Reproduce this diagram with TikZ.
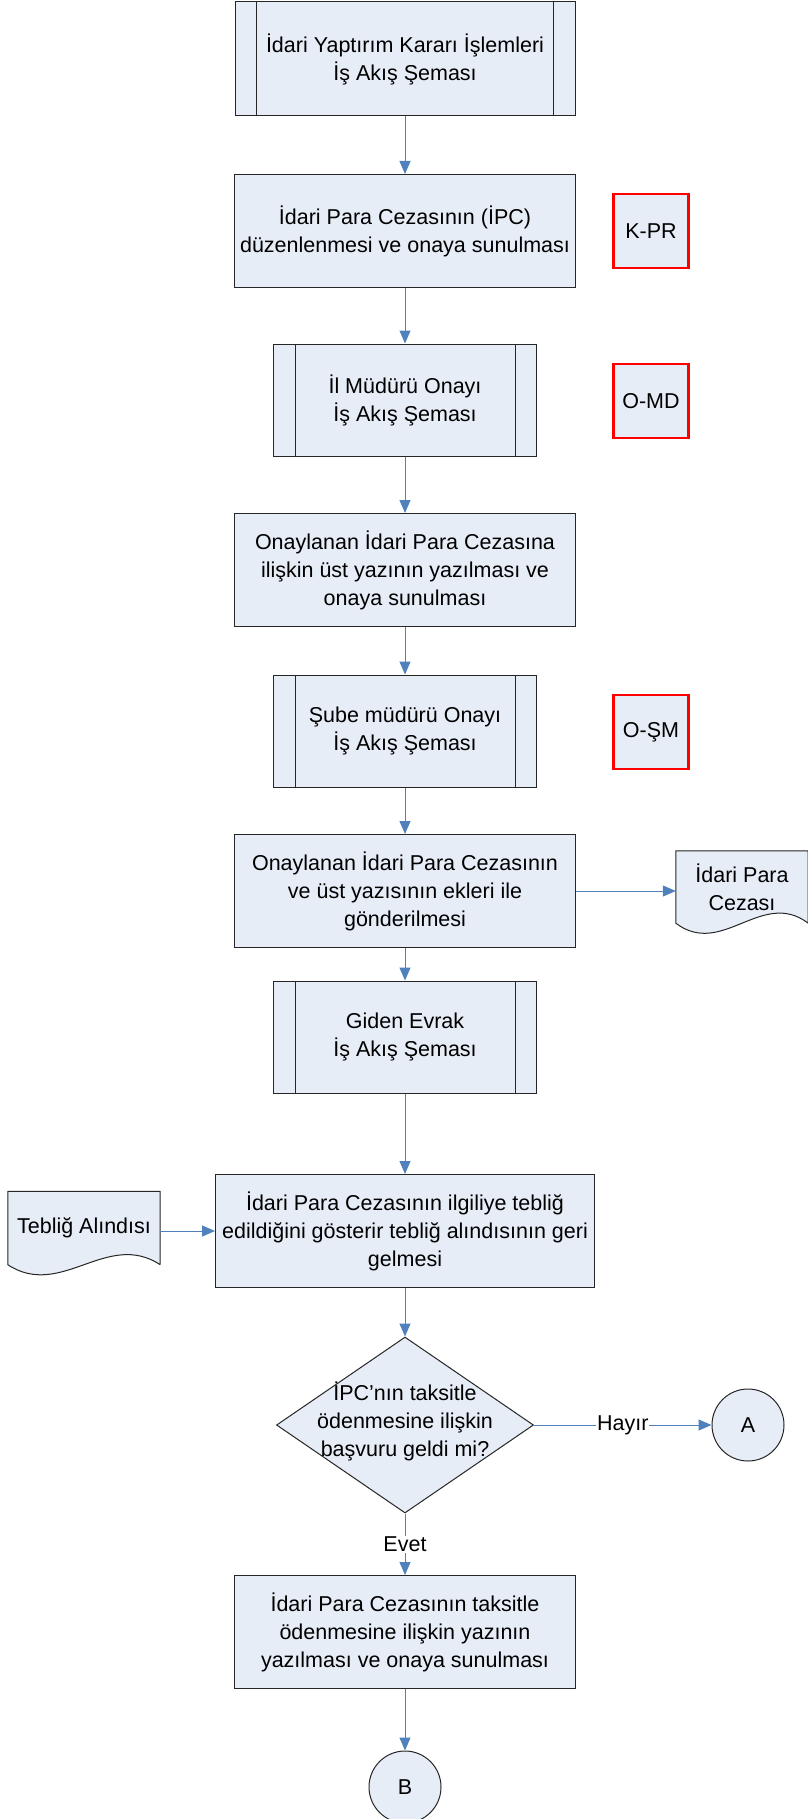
\documentclass[tikz,border=0pt]{standalone}
\usepackage{fontspec}
\setmainfont{Liberation Sans}
\usepackage{tikz}
\usetikzlibrary{arrows.meta, shapes.geometric, calc, backgrounds}

\definecolor{boxfill}{RGB}{231,237,247}
\definecolor{flowblue}{RGB}{79,129,189}

% document symbol with a wavy lower edge, drawn round a named node
\newcommand{\wavydoc}[1]{%
	\filldraw[boxline, fill=boxfill] (#1.south east) -- (#1.north east) -- (#1.north west) -- (#1.south west)
		.. controls ($(#1.south west)!0.35!(#1.south east)+(0,35)$) and ($(#1.south west)!0.65!(#1.south east)+(0,-35)$) .. (#1.south east);}

\begin{document}
\begin{tikzpicture}[x=1pt, y=-1pt, font=\fontsize{21.5}{28}\selectfont,
	boxline/.style={draw=black!85, line width=1pt},
	proc/.style={rectangle, boxline, fill=boxfill, align=center, minimum width=341pt, minimum height=113pt, inner sep=2pt},
	subproc/.style={proc, minimum width=263pt, minimum height=112pt},
	code/.style={rectangle, draw=red, line width=2.6pt, fill=boxfill, minimum width=75pt, minimum height=74pt, inner sep=0pt},
	docnode/.style={rectangle, align=center, inner sep=0pt},
	decision/.style={diamond, boxline, fill=boxfill, minimum width=257pt, minimum height=176pt, inner sep=0pt},
	connector/.style={circle, boxline, fill=boxfill, minimum size=72pt, inner sep=0pt},
	flow/.style={draw=flowblue, line width=1pt, -{Triangle[width=11pt,length=13pt]}},
	flowlabel/.style={fill=white, inner sep=1pt}]
	\useasboundingbox (0,0) rectangle (807,1819);

	\node[subproc, minimum width=340pt, minimum height=114pt]	(b1) at (405,59)	{İdari Yaptırım Kararı İşlemleri\\İş Akış Şeması};
	\node[proc]		(b2) at (405,231)	{İdari Para Cezasının (İPC)\\düzenlenmesi ve onaya sunulması};
	\node[subproc]	(b3) at (405,400)	{İl Müdürü Onayı\\İş Akış Şeması};
	\node[proc]		(b4) at (405,570)	{Onaylanan İdari Para Cezasına\\ilişkin üst yazının yazılması ve\\onaya sunulması};
	\node[subproc]	(b5) at (405,731)	{Şube müdürü Onayı\\İş Akış Şeması};
	\node[proc]		(b6) at (405,891)	{Onaylanan İdari Para Cezasının\\ve üst yazısının ekleri ile\\gönderilmesi};
	\node[subproc]	(b7) at (405,1037)	{Giden Evrak\\İş Akış Şeması};
	\node[proc, minimum width=379pt]	(b8) at (405,1231)	{İdari Para Cezasının ilgiliye tebliğ\\edildiğini gösterir tebliğ alındısının geri\\gelmesi};
	\node[decision]	(dec) at (405,1425)	{\smash{\makebox[0pt]{\raisebox{-3pt}{\begin{tabular}{@{}c@{}}İPC’nın taksitle\\ödenmesine ilişkin\\başvuru geldi mi?\end{tabular}}}}};
	\node[proc]		(b9) at (405,1632)	{İdari Para Cezasının taksitle\\ödenmesine ilişkin yazının\\yazılması ve onaya sunulması};
	\node[connector]	(ca) at (748,1425)	{A};
	\node[connector]	(cb) at (405,1787)	{B};

	\node[code]	(kpr) at (651,231)	{K-PR};
	\node[code]	(omd) at (651,401)	{O-MD};
	\node[code]	(osm) at (651,732)	{O-ŞM};

	\node[docnode, minimum width=132pt, minimum height=72pt]	(ipcdoc) at (742,887)	{İdari Para\\Cezası};
	\node[docnode, minimum width=152pt, minimum height=73pt]	(tebdoc) at (84,1228)	{Tebliğ Alındısı};
	\begin{scope}[on background layer]
		\wavydoc{ipcdoc}
		\wavydoc{tebdoc}
	\end{scope}

	\foreach \n in {b1,b3,b5,b7}
		\draw[boxline] ([xshift=22pt]\n.north west) -- ([xshift=22pt]\n.south west)
			([xshift=-22pt]\n.north east) -- ([xshift=-22pt]\n.south east);

	\foreach \a/\b in {b1/b2, b2/b3, b3/b4, b4/b5, b5/b6, b6/b7, b7/b8, b8/dec, b9/cb}
		\draw[flow] (\a) -- (\b);
	\draw[flow]	(b6.east) -- (b6.east -| ipcdoc.west);
	\draw[flow]	(b8.west -| tebdoc.east) -- (b8.west);
	\draw[flow]	(dec) -- node[flowlabel] {Hayır} (ca);
	\draw[flow]	(dec) -- node[flowlabel] {Evet} (b9);
\end{tikzpicture}
\end{document}
